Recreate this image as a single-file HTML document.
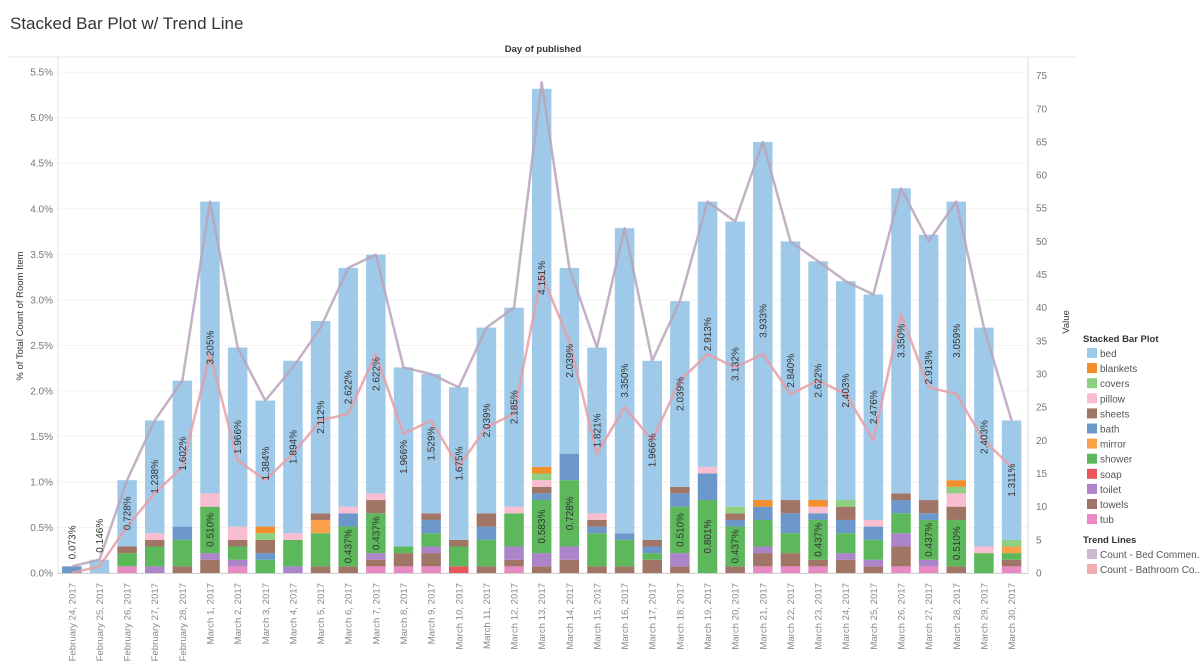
<!DOCTYPE html>
<html><head><meta charset="utf-8"><style>
body{margin:0;background:#fff;font-family:"Liberation Sans",sans-serif}
svg text{font-family:"Liberation Sans",sans-serif}
</style></head><body>
<svg id="chart" width="1200" height="666" xmlns="http://www.w3.org/2000/svg">
<text x="10" y="29" font-size="17" fill="#333">Stacked Bar Plot w/ Trend Line</text>
<text x="543" y="52" font-size="9.5" font-weight="bold" fill="#333" text-anchor="middle">Day of published</text>
<line x1="8" y1="57" x2="1075" y2="57" stroke="#e6e6e6"/>
<text transform="translate(23,316) rotate(-90)" font-size="9.5" fill="#333" text-anchor="middle">% of Total Count of Room Item</text>
<text transform="translate(1069,322) rotate(-90)" font-size="9.5" fill="#333" text-anchor="middle">Value</text>
<g id="grid"></g><g id="bars"></g><g id="lines"></g><g id="labels"></g><g id="axes"></g>
<g id="legend"></g>
</svg>
<script>
const dates=["February 24, 2017","February 25, 2017","February 26, 2017","February 27, 2017","February 28, 2017","March 1, 2017","March 2, 2017","March 3, 2017","March 4, 2017","March 5, 2017","March 6, 2017","March 7, 2017","March 8, 2017","March 9, 2017","March 10, 2017","March 11, 2017","March 12, 2017","March 13, 2017","March 14, 2017","March 15, 2017","March 16, 2017","March 17, 2017","March 18, 2017","March 19, 2017","March 20, 2017","March 21, 2017","March 22, 2017","March 23, 2017","March 24, 2017","March 25, 2017","March 26, 2017","March 27, 2017","March 28, 2017","March 29, 2017","March 30, 2017"];
const tub     =[0,0,1,0,0,0,1,0,0,0,0,1,1,1,0,0,1,0,0,0,0,0,0,0,0,1,1,1,0,0,1,1,0,0,1];
const towels  =[0,0,0,0,1,2,0,0,0,1,1,1,2,2,0,1,1,1,2,1,1,2,1,0,1,2,2,1,2,1,3,0,1,0,1];
const toilet  =[0,0,0,1,0,1,1,0,1,0,0,1,0,1,0,0,2,2,2,0,0,0,2,0,0,1,0,0,1,1,2,1,0,0,0];
const soap    =[0,0,0,0,0,0,0,0,0,0,0,0,0,0,1,0,0,0,0,0,0,0,0,0,0,0,0,0,0,0,0,0,0,0,0];
const shower  =[0,0,2,3,4,7,2,2,4,5,6,6,1,2,3,4,5,8,10,5,4,1,7,11,6,4,3,6,3,3,3,6,7,3,1];
const mirror  =[0,0,0,0,0,0,0,0,0,2,0,0,0,0,0,0,0,0,0,0,0,0,0,0,0,0,0,0,0,0,0,0,0,0,1];
const bath    =[1,0,0,0,2,0,0,1,0,0,2,0,0,2,0,2,0,1,4,1,1,1,2,4,1,2,3,1,2,2,2,1,0,0,0];
const sheets  =[0,0,1,1,0,0,1,2,0,1,0,2,0,1,1,2,0,1,0,1,0,1,1,0,1,0,2,0,2,0,1,2,2,0,0];
const pillow  =[0,0,0,1,0,2,2,0,1,0,1,1,0,0,0,0,1,1,0,1,0,0,0,1,0,0,0,1,0,1,0,0,2,1,0];
const covers  =[0,0,0,0,0,0,0,1,0,0,0,0,0,0,0,0,0,1,0,0,0,0,0,0,1,0,0,0,1,0,0,0,1,0,1];
const blankets=[0,0,0,0,0,0,0,1,0,0,0,0,0,0,0,0,0,1,0,0,0,0,0,0,0,1,0,1,0,0,0,0,1,0,0];
const bed     =[0,2,10,17,22,44,27,19,26,29,36,36,27,21,23,28,30,57,28,25,46,27,28,40,43,54,39,36,33,34,46,40,42,33,18];
const bedComments=[1,2,14,23,29,56,34,26,31,37,46,48,31,30,28,37,40,74,46,34,52,32,41,56,53,65,50,47,44,42,58,50,56,37,23];
const bathroomCounts=[0,1,7,12,16,33,17,14,18,23,24,33,21,23,16,22,24,45,35,18,25,20,29,33,31,33,27,29,27,20,39,28,27,20,16];
const leftTicks=["0.0%","0.5%","1.0%","1.5%","2.0%","2.5%","3.0%","3.5%","4.0%","4.5%","5.0%","5.5%"];
const rightTicks=[0,5,10,15,20,25,30,35,40,45,50,55,60,65,70,75];
const UNIT_PCT=0.072833;
const series=[["tub",tub,"#e98ac4"],["towels",towels,"#a07565"],["toilet",toilet,"#ab84c9"],["soap",soap,"#e8555a"],["shower",shower,"#5cb85a"],["mirror",mirror,"#f9a04a"],["bath",bath,"#6b97cb"],["sheets",sheets,"#a07565"],["pillow",pillow,"#f8bdd0"],["covers",covers,"#8dd07f"],["blankets",blankets,"#f28e2b"],["bed",bed,"#9fc9e8"]];
const NS="http://www.w3.org/2000/svg";
const X0=71.8, STEP=27.64, BW=19.5, Y0=573, PXU=6.632, L=58, R=1028;
const x=i=>X0+i*STEP;
const y=v=>Y0-v*PXU;
const yPct=p=>y(p/UNIT_PCT);
function mk(tag,attrs,parent,txt){const e=document.createElementNS(NS,tag);for(const k in attrs)e.setAttribute(k,attrs[k]);if(txt!==undefined)e.textContent=txt;parent.appendChild(e);return e;}
const G=id=>document.getElementById(id);
leftTicks.forEach((t,i)=>{const p=parseFloat(t);const yy=yPct(p);
 const g=mk("line",{x1:L,x2:R,y1:yy,y2:yy,stroke:"#f2f2f2"},G("grid"));
 
 
 const tx=mk("text",{x:53,y:yy+3.5,"font-size":"10","fill":"#777","text-anchor":"end"},G("axes"),t);
 
 
});
rightTicks.forEach(v=>{const tx=mk("text",{x:1036,y:y(v)+3.5,"font-size":"10","fill":"#777"},G("axes"),String(v));
 
 
});
const a1=mk("line",{x1:L,x2:L,y1:57,y2:Y0+1,stroke:"#e0e0e0"},G("axes"));


const a2=mk("line",{x1:R,x2:R,y1:57,y2:Y0+1,stroke:"#d8d8d8"},G("axes"));


const a3=mk("line",{x1:L,x2:R,y1:Y0+0.5,y2:Y0+0.5,stroke:"#d0d0d0"},G("axes"));


function lbl(i,cy,txt){
 const t=mk("text",{transform:`translate(${x(i)+3.5},${cy}) rotate(-90)`,"font-size":"10","fill":"#333","text-anchor":"middle"},G("labels"),txt);
 
 
}
dates.forEach((d,i)=>{let acc=0;
 series.forEach(([name,arr,col])=>{const v=arr[i];if(!v)return;
  const r=mk("rect",{x:x(i)-BW/2,y:y(acc+v),width:BW,height:v*PXU,fill:col},G("bars"));
  
  
  if(name==="bed"&&v>4) lbl(i,(y(acc)+y(acc+v))/2,(v*UNIT_PCT).toFixed(3)+"%");
  if(name==="shower"&&v>=6) lbl(i,(y(acc)+y(acc+v))/2,(v*UNIT_PCT).toFixed(3)+"%");
  acc+=v;});
 if(acc<=4){const v=bed[i]||acc; lbl(i,y(acc)-24,(v*UNIT_PCT).toFixed(3)+"%");}
 const t=mk("text",{transform:`translate(${x(i)+3.5},583) rotate(-90)`,"font-size":"9.6","fill":"#8a8a8a","text-anchor":"end"},G("axes"),d);
 
 
});
function line(arr,col,name){const pts=arr.map((v,i)=>x(i)+","+y(v)).join(" ");
 const p=mk("polyline",{points:pts,fill:"none",stroke:col,"stroke-width":"2.5","stroke-opacity":"0.85","stroke-linejoin":"round"},G("lines"));
 
 }
line(bedComments,"#b9a3bb","trend-line-bed-comments");
line(bathroomCounts,"#e89ea4","trend-line-bathroom-count");
const lg=G("legend");
const h1=mk("text",{x:1083,y:342,"font-size":"9.5","font-weight":"bold","fill":"#333"},lg,"Stacked Bar Plot");


["bed","blankets","covers","pillow","sheets","bath","mirror","shower","soap","toilet","towels","tub"].forEach((n,k)=>{
 const col=series.find(s=>s[0]===n)[2];const yy=348+k*15.1;
 const r=mk("rect",{x:1087,y:yy,width:10,height:10,fill:col},lg);
 
 
 const t=mk("text",{x:1100,y:yy+9,"font-size":"10","fill":"#555"},lg,n);
 
 
});
const h2=mk("text",{x:1083,y:543,"font-size":"9.5","font-weight":"bold","fill":"#333"},lg,"Trend Lines");


[["Count - Bed Commen..","#cdb9cf"],["Count - Bathroom Co..","#f0aeb0"]].forEach(([n,c],k)=>{const yy=549+k*15;
 const r=mk("rect",{x:1087,y:yy,width:10,height:10,fill:c},lg);
 
 
 const t=mk("text",{x:1100,y:yy+9,"font-size":"10","fill":"#555"},lg,n);
 
 
});
</script>
</body></html>
